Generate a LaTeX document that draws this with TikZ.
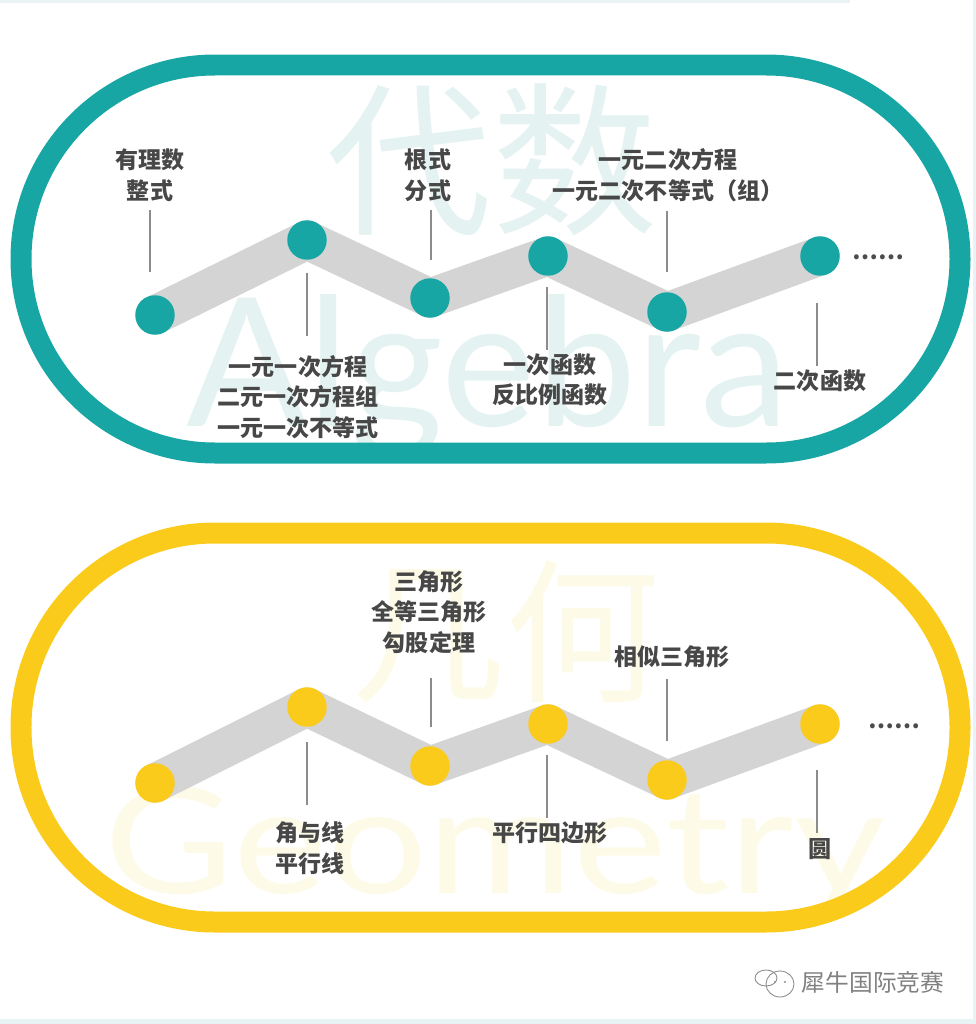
\documentclass[tikz,border=0pt]{standalone}
\usepackage{fontspec}
\setmainfont{Noto Sans CJK SC}
\newfontfamily\latinwm{Lato}
\definecolor{tealring}{HTML}{17A6A3}
\definecolor{goldring}{HTML}{FBCB1C}
\definecolor{tealwm}{HTML}{E4F3F1}
\definecolor{goldwm}{HTML}{FDFBE8}
\definecolor{edgeblue}{HTML}{E9F3F5}
\tikzset{ring/.style={line width=0.42cm, rounded corners=3.88cm}}
\tikzset{band/.style={draw=black!17, line width=0.78cm, line join=round, line cap=round}}
\tikzset{dot/.style={circle, minimum size=0.79cm, inner sep=0pt, outer sep=0pt}}
\tikzset{topic/.style={font=\fontsize{13.1}{17.4}\selectfont\bfseries, text=black!72, align=center, inner sep=0pt}}
\tikzset{leader/.style={draw=black!45, line width=0.7pt}}
\tikzset{more/.style={font=\fontsize{13}{17}\selectfont\bfseries, text=black!70, inner sep=0pt}}
\begin{document}
\begin{tikzpicture}[x=0.02cm, y=-0.02cm]
\useasboundingbox (0,0) rectangle (976,1024);
\fill[edgeblue] (0,0) rectangle (850,3);
\fill[edgeblue] (973,0) rectangle (976,1024);
\fill[edgeblue] (0,1019) rectangle (976,1024);
% background words
\node[font=\fontsize{94}{94}\selectfont, text=tealwm, inner sep=0pt] (wmalg) at (492,160) {代数};
\node[font=\latinwm\fontsize{102}{102}\selectfont, text=tealwm, inner sep=0pt, anchor=base] (wmalgebra) at (488,426) {Algebra};
\node[font=\fontsize{88}{88}\selectfont, text=goldwm, inner sep=0pt] (wmgeo) at (505,632) {几何};
\node[font=\latinwm\fontsize{84}{84}\selectfont, text=goldwm, inner sep=0pt, anchor=base, xscale=1.2] (wmgeometry) at (495,893) {Geometry};
% rings
\draw[ring, tealring] (21,65) rectangle (960,453);
\draw[ring, goldring] (21,533) rectangle (960,922);
% algebra
\coordinate (t1c) at (155,315);
\coordinate (t2c) at (307,240);
\coordinate (t3c) at (430,298);
\coordinate (t4c) at (548,256);
\coordinate (t5c) at (667,312);
\coordinate (t6c) at (820,256);
\draw[band] (t1c) -- (t2c) -- (t3c) -- (t4c) -- (t5c) -- (t6c);
\node[dot, fill=tealring] (t1) at (t1c) {};
\node[dot, fill=tealring] (t2) at (t2c) {};
\node[dot, fill=tealring] (t3) at (t3c) {};
\node[dot, fill=tealring] (t4) at (t4c) {};
\node[dot, fill=tealring] (t5) at (t5c) {};
\node[dot, fill=tealring] (t6) at (t6c) {};
\node[topic] (la) at (150,175) {有理数\\整式};
\node[topic] (lb) at (298,397) {一元一次方程\\二元一次方程组\\一元一次不等式};
\node[topic] (lc) at (428,175) {根式\\分式};
\node[topic] (ld) at (550,380) {一次函数\\反比例函数};
\node[topic] (le) at (668,175) {一元二次方程\\一元二次不等式（组）};
\node[topic] (lf) at (820,381) {二次函数};
\coordinate (a1) at (150,210);
\coordinate (a2) at (150,272);
\coordinate (b1) at (307,273);
\coordinate (b2) at (307,336);
\coordinate (c1) at (431,210);
\coordinate (c2) at (431,260);
\coordinate (d1) at (547,287);
\coordinate (d2) at (547,350);
\coordinate (e1) at (667,211);
\coordinate (e2) at (667,272);
\coordinate (f1) at (817,303);
\coordinate (f2) at (817,366);
\draw[leader] (a1) -- (a2);
\draw[leader] (b1) -- (b2);
\draw[leader] (c1) -- (c2);
\draw[leader] (d1) -- (d2);
\draw[leader] (e1) -- (e2);
\draw[leader] (f1) -- (f2);
\node[more] (mt) at (878,257) {……};
% geometry
\coordinate (g1c) at (155,783);
\coordinate (g2c) at (307,707);
\coordinate (g3c) at (430,766);
\coordinate (g4c) at (548,724);
\coordinate (g5c) at (667,780);
\coordinate (g6c) at (820,724);
\draw[band] (g1c) -- (g2c) -- (g3c) -- (g4c) -- (g5c) -- (g6c);
\node[dot, fill=goldring] (g1) at (g1c) {};
\node[dot, fill=goldring] (g2) at (g2c) {};
\node[dot, fill=goldring] (g3) at (g3c) {};
\node[dot, fill=goldring] (g4) at (g4c) {};
\node[dot, fill=goldring] (g5) at (g5c) {};
\node[dot, fill=goldring] (g6) at (g6c) {};
\node[topic] (lg) at (310,848) {角与线\\平行线};
\node[topic] (lh) at (429,612) {三角形\\全等三角形\\勾股定理};
\node[topic] (li) at (550,833) {平行四边形};
\node[topic] (lj) at (672,657) {相似三角形};
\node[topic] (lk) at (820,849) {圆};
\coordinate (m1) at (307,742);
\coordinate (m2) at (307,805);
\coordinate (n1) at (431,678);
\coordinate (n2) at (431,727);
\coordinate (o1) at (547,755);
\coordinate (o2) at (547,818);
\coordinate (p1) at (667,679);
\coordinate (p2) at (667,741);
\coordinate (q1) at (817,770);
\coordinate (q2) at (817,833);
\draw[leader] (m1) -- (m2);
\draw[leader] (n1) -- (n2);
\draw[leader] (o1) -- (o2);
\draw[leader] (p1) -- (p2);
\draw[leader] (q1) -- (q2);
\node[more] (mg) at (894,726) {……};
% mark in the corner
\draw[black!45, line width=0.5pt] (780,984) ellipse (14 and 13);
\draw[black!45, line width=0.5pt] (766,978) ellipse (11 and 8);
\fill[black!45] (775,982) circle (1.2);
\fill[black!45] (785,982) circle (1.2);
\node[font=\fontsize{13.5}{13.5}\selectfont, text=black!50, inner sep=0pt] (brand) at (873,982) {犀牛国际竞赛};
\end{tikzpicture}
\end{document}
